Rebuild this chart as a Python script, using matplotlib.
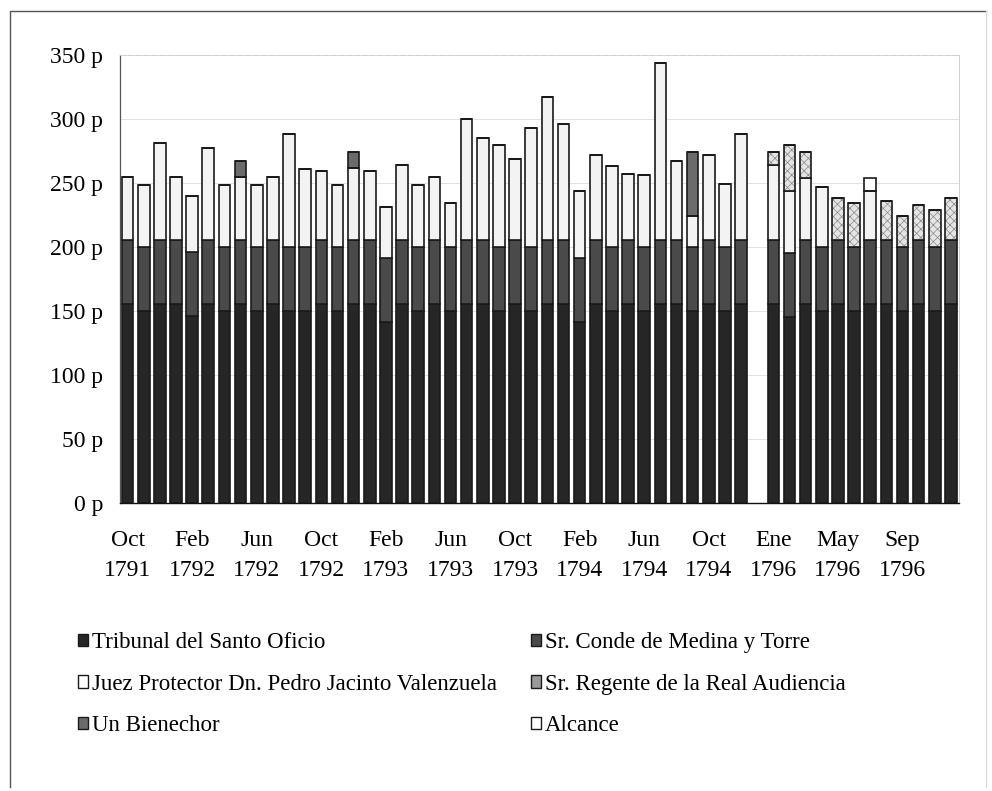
import matplotlib
matplotlib.use('Agg')
import matplotlib.pyplot as plt
from matplotlib.patches import Patch
from matplotlib.lines import Line2D
import numpy as np

plt.rcParams['font.family'] = ['Liberation Serif', 'DejaVu Serif']
plt.rcParams['hatch.linewidth'] = 0.5

# categorias mensuales: oct 1791 - dic 1794, hueco (1795), ene - dic 1796
meses_es = ['Ene', 'Feb', 'Mar', 'Abr', 'May', 'Jun', 'Jul', 'Ago', 'Sep', 'Oct', 'Nov', 'Dic']
meses = (['%s %d' % (m, 1791) for m in meses_es[9:]]
         + ['%s %d' % (m, a) for a in (1792, 1793, 1794) for m in meses_es]
         + ['1795']
         + ['%s %d' % (m, 1796) for m in meses_es])

tick_idx = [0, 4, 8, 12, 16, 20, 24, 28, 32, 36, 40, 44, 48]
tick_labels = ['Oct\n1791', 'Feb\n1792', 'Jun\n1792', 'Oct\n1792', 'Feb\n1793', 'Jun\n1793',
               'Oct\n1793', 'Feb\n1794', 'Jun\n1794', 'Oct\n1794', 'Ene\n1796', 'May\n1796', 'Sep\n1796']

tribunal = [155, 150, 155, 155, 146, 155, 150, 155, 150, 155, 150, 150, 155, 150, 155, 155, 141, 155, 150,
            155, 150, 155, 155, 150, 155, 150, 155, 155, 141, 155, 150, 155, 150, 155, 155, 150, 155, 150, 155,
            0,
            155, 145, 155, 150, 155, 150, 155, 155, 150, 155, 150, 155]
conde = [50] * 39 + [0] + [50] * 12
juez = [50, 48, 76, 50, 44, 72, 48, 50, 48, 50, 88, 61, 54, 48, 57, 54, 40, 59, 48,
        50, 34, 95, 80, 80, 64, 93, 112, 91, 53, 67, 63, 52, 56, 139, 62, 24, 67, 49, 83,
        0,
        59, 49, 49, 47, 0, 0, 39, 0, 0, 0, 0, 0]
regente = [0] * 40 + [10, 36, 20, 0, 33, 34, 0, 31, 24, 28, 29, 33]
bienechor = [0] * 52
bienechor[7] = 12
bienechor[14] = 12
bienechor[35] = 50
alcance = [0] * 52
alcance[46] = 10

etiquetas = ['Tribunal del Santo Oficio', 'Sr. Conde de Medina y Torre',
             'Juez Protector Dn. Pedro Jacinto Valenzuela', 'Sr. Regente de la Real Audiencia',
             'Un Bienechor', 'Alcance']

x = np.arange(len(meses))
hay = np.array(tribunal) > 0   # 1795 sin datos
W = 0.72
EC = '#1a1a1a'
LW = 1.2

fig = plt.figure(figsize=(9.92, 7.91), dpi=100)
ax = fig.add_axes([120 / 992, 1 - 502.7 / 791, (959 - 120) / 992, (502.7 - 55) / 791])


def tramo(vals, bottom, **kw):
    v = np.array(vals, dtype=float)
    ax.bar(x[hay], v[hay], W, bottom=bottom[hay], **kw)


base = np.zeros(len(x))
tramo(tribunal, base, color='#262626', edgecolor=EC, lw=LW, zorder=3)
base += tribunal
tramo(conde, base, color='#4a4a4a', edgecolor=EC, lw=LW, zorder=3)
base += conde
tramo(juez, base, color='#f3f3f3', edgecolor=EC, lw=LW, zorder=3)
base += juez
tramo(regente, base, color='#e4e4e4', edgecolor='#8a8a8a', hatch='xxxx', lw=0, zorder=3)
tramo(regente, base, fill=False, edgecolor=EC, lw=LW, zorder=4)
base += regente
tramo(bienechor, base, color='#6b6b6b', edgecolor=EC, lw=LW, zorder=3)
base += bienechor
tramo(alcance, base, color='white', edgecolor=EC, lw=LW, zorder=3)

ax.set_xlim(-0.47, 51.5)
ax.set_ylim(0, 350)
ax.set_yticks(range(0, 351, 50))
ax.set_yticklabels(['%d p' % v for v in range(0, 351, 50)], fontsize=17)
ax.set_xticks(tick_idx)
ax.set_xticklabels(tick_labels, fontsize=17, linespacing=1.55)
ax.tick_params(axis='y', length=0, pad=12)
ax.tick_params(axis='x', length=0, pad=20)
ax.yaxis.grid(True, color='#e2e2e2', lw=0.7, zorder=0)
ax.set_axisbelow(True)
for s in ('top', 'right'):
    ax.spines[s].set_color('#cfcfcf')
    ax.spines[s].set_linewidth(0.7)
ax.spines['top'].set_linestyle((0, (6, 2)))
ax.spines['left'].set_color('#555555')
ax.spines['left'].set_linewidth(0.9)
ax.spines['bottom'].set_color('#111111')
ax.spines['bottom'].set_linewidth(1.0)

# leyenda en dos columnas
colores = ['#262626', '#4a4a4a', 'white', '#9a9a9a', '#6b6b6b', 'white']
handles = [Patch(facecolor=c, edgecolor=EC, lw=1.0) for c in colores]
izq = [0, 2, 4]
der = [1, 3, 5]
leg_kw = dict(loc='upper left', frameon=False, fontsize=16.5, handlelength=0.44, handleheight=0.44,
              handletextpad=0.15, labelspacing=0.9, borderpad=0, borderaxespad=0)
l1 = fig.legend([handles[i] for i in izq], [etiquetas[i] for i in izq],
                bbox_to_anchor=(78 / 992, 1 - 632 / 791), **leg_kw)
l2 = fig.legend([handles[i] for i in der], [etiquetas[i] for i in der],
                bbox_to_anchor=(531 / 992, 1 - 632 / 791), **leg_kw)

# marco exterior
fig.add_artist(Line2D([10 / 992, 10 / 992, 986 / 992], [1 - 787 / 791, 1 - 11 / 791, 1 - 11 / 791],
                      color='#555555', lw=1.0))
fig.add_artist(Line2D([986 / 992, 986 / 992], [1 - 11 / 791, 1 - 787 / 791],
                      color='#d8d8d8', lw=0.8))

fig.savefig('out.png', dpi=100)
